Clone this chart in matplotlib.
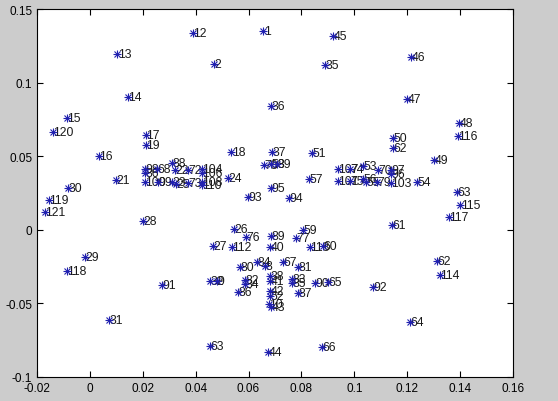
import matplotlib
matplotlib.use('Agg')
import matplotlib.pyplot as plt

# point positions, with their index labels
labels = ['1', '12', '45', '13', '46', '2', '35', '14', '47', '36',
          '15', '48', '120', '17', '116', '50', '19', '62', '18', '37',
          '51', '16', '49', '78', '58', '39',
          '98', '86', '68', '88', '22', '72', '104', '106',
          '100', '99', '23', '25', '73', '108', '110', '24', '21', '57',
          '95', '93', '94', '30', '119', '121', '28',
          '107', '74', '53', '70', '97', '96', '101', '75', '56', '55',
          '79', '103', '54', '63', '115', '117', '61',
          '26', '76', '89', '59', '77', '27', '112', '40', '113', '60',
          '62', '114', '29', '118', '84', '8', '67', '81', '80', '32',
          '9', '82', '34', '38', '41', '83', '85', '90', '65', '91',
          '92', '86', '42', '52', '87', '10', '43', '31', '64', '63',
          '66', '44']
xs = [0.0655, 0.0390, 0.0919, 0.0103, 0.1214, 0.0469, 0.0889, 0.0144, 0.1199, 0.0685,
      -0.0087, 0.1396, -0.0140, 0.0212, 0.1392, 0.1146, 0.0212, 0.1146, 0.0534, 0.0689,
      0.0840, 0.0034, 0.1301, 0.0659, 0.0685, 0.0708,
      0.0208, 0.0208, 0.0254, 0.0311, 0.0322, 0.0371, 0.0424, 0.0424,
      0.0208, 0.0258, 0.0311, 0.0326, 0.0371, 0.0424, 0.0424, 0.0522, 0.0099, 0.0829,
      0.0685, 0.0598, 0.0753, -0.0083, -0.0155, -0.0170, 0.0201,
      0.0938, 0.0984, 0.1033, 0.1090, 0.1139, 0.1139, 0.0938, 0.0984, 0.1033, 0.1044,
      0.1086, 0.1139, 0.1237, 0.1388, 0.1400, 0.1358, 0.1143,
      0.0545, 0.0590, 0.0685, 0.0806, 0.0780, 0.0466, 0.0537, 0.0681, 0.0832, 0.0882,
      0.1313, 0.1324, -0.0018, -0.0087, 0.0632, 0.0662, 0.0730, 0.0787, 0.0568, 0.0454,
      0.0481, 0.0587, 0.0587, 0.0681, 0.0681, 0.0764, 0.0764, 0.0851, 0.0901, 0.0273,
      0.1071, 0.0560, 0.0681, 0.0681, 0.0787, 0.0677, 0.0685, 0.0072, 0.1211, 0.0454,
      0.0878, 0.0674]
ys = [0.1351, 0.1337, 0.1317, 0.1194, 0.1174, 0.1126, 0.1120, 0.0902, 0.0889, 0.0841,
      0.0760, 0.0726, 0.0664, 0.0644, 0.0637, 0.0624, 0.0576, 0.0556, 0.0529, 0.0529,
      0.0522, 0.0501, 0.0474, 0.0440, 0.0447, 0.0447,
      0.0413, 0.0386, 0.0413, 0.0454, 0.0406, 0.0406, 0.0413, 0.0386,
      0.0325, 0.0325, 0.0325, 0.0311, 0.0318, 0.0325, 0.0304, 0.0352, 0.0338, 0.0345,
      0.0284, 0.0223, 0.0216, 0.0284, 0.0202, 0.0121, 0.0060,
      0.0413, 0.0413, 0.0433, 0.0406, 0.0406, 0.0379, 0.0332, 0.0332, 0.0345, 0.0325,
      0.0325, 0.0318, 0.0325, 0.0257, 0.0168, 0.0087, 0.0033,
      0.0005, -0.0049, -0.0042, -0.0001, -0.0056, -0.0110, -0.0117, -0.0117, -0.0117, -0.0110,
      -0.0212, -0.0307, -0.0185, -0.0280, -0.0219, -0.0246, -0.0219, -0.0253, -0.0253, -0.0348,
      -0.0348, -0.0341, -0.0368, -0.0314, -0.0348, -0.0334, -0.0361, -0.0361, -0.0355, -0.0375,
      -0.0389, -0.0423, -0.0416, -0.0450, -0.0429, -0.0504, -0.0524, -0.0613, -0.0626, -0.0789,
      -0.0796, -0.0830]

xticks = [-0.02, 0, 0.02, 0.04, 0.06, 0.08, 0.1, 0.12, 0.14, 0.16]
xticklabels = ['-0.02', '0', '0.02', '0.04', '0.06', '0.08', '0.1', '0.12', '0.14', '0.16']
yticks = [-0.1, -0.05, 0, 0.05, 0.1, 0.15]
yticklabels = ['-0.1', '-0.05', '0', '0.05', '0.1', '0.15']

plt.rcParams['font.family'] = ['Liberation Sans', 'DejaVu Sans']

fig = plt.figure(figsize=(5.58, 4.02), dpi=100, facecolor='#cccccc')
ax = fig.add_axes([37/558, 1-378/402, 476/558, 368/402])
ax.set_facecolor('white')

for x, y, s in zip(xs, ys, labels):
	ax.text(x+0.0002, y, s, fontsize=8.8, ha='left', va='center', color='#1a1a1a', zorder=2)
# matlab-like asterisk: plus and cross on top of the labels
ax.plot(xs, ys, '+', color='#2020b0', markersize=6, markeredgewidth=0.8, zorder=3)
ax.plot(xs, ys, 'x', color='#2020b0', markersize=4.5, markeredgewidth=0.8, zorder=3)

ax.set_xlim(-0.02, 0.16)
ax.set_ylim(-0.1, 0.15)
ax.set_xticks(xticks)
ax.set_xticklabels(xticklabels)
ax.set_yticks(yticks)
ax.set_yticklabels(yticklabels)
ax.tick_params(direction='in', top=True, right=True, length=4, labelsize=8.5, width=0.8)
for sp_ in ax.spines.values():
	sp_.set_linewidth(0.8)

fig.savefig('out.png', dpi=100, facecolor=fig.get_facecolor())
